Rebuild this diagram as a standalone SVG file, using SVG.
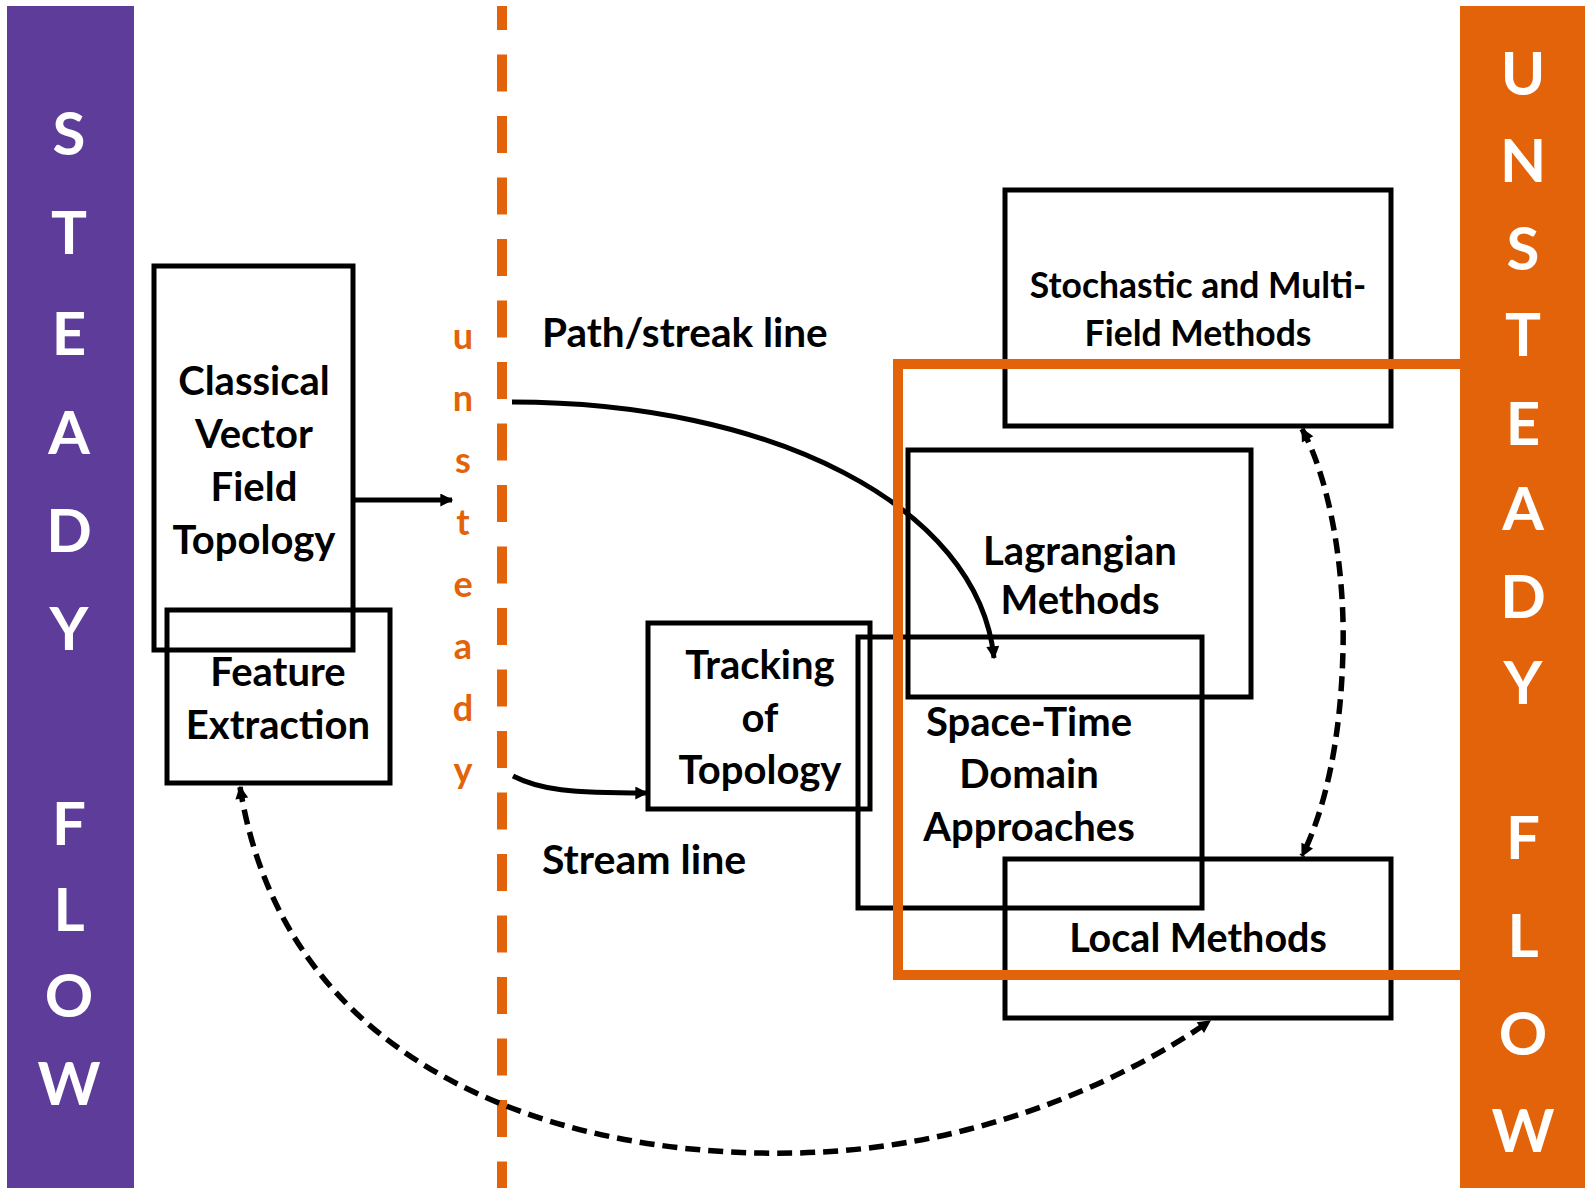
<svg xmlns="http://www.w3.org/2000/svg" width="1585" height="1188" viewBox="0 0 1585 1188">
<defs>
<style>
.box{fill:none;stroke:#000;stroke-width:5}
.lbl{font-family:Lato,"Open Sans","Liberation Sans",sans-serif;font-weight:bold;font-size:40px;fill:#000;text-anchor:middle}
.side{font-family:Lato,"Open Sans","Liberation Sans",sans-serif;font-weight:bold;font-size:60px;fill:#fff;text-anchor:middle}
.uns{font-family:Lato,"Open Sans","Liberation Sans",sans-serif;font-weight:bold;font-size:36px;fill:#E2630A;text-anchor:middle}
.conn{fill:none;stroke:#000;stroke-width:5}
.dash{fill:none;stroke:#000;stroke-width:5.5;stroke-dasharray:15 8}
</style>
<marker id="arr" viewBox="0 0 10 10" refX="9" refY="5" markerWidth="15" markerHeight="13" markerUnits="userSpaceOnUse" orient="auto"><path d="M0,0 L10,5 L0,10 z" fill="#000"/></marker>
<marker id="arrS" viewBox="0 0 10 10" refX="9" refY="5" markerWidth="15" markerHeight="13" markerUnits="userSpaceOnUse" orient="auto-start-reverse"><path d="M0,0 L10,5 L0,10 z" fill="#000"/></marker>
</defs>
<rect width="1585" height="1188" fill="#fff"/>
<g id="steady-bar">
<rect x="7" y="6" width="127" height="1182" fill="#5E3C99"/>
<text class="side" x="69" y="155">S</text>
<text class="side" x="69" y="254">T</text>
<text class="side" x="69" y="355">E</text>
<text class="side" x="69" y="454">A</text>
<text class="side" x="69" y="552">D</text>
<text class="side" x="69" y="650">Y</text>
<text class="side" x="69" y="845">F</text>
<text class="side" x="69" y="931">L</text>
<text class="side" x="69" y="1017">O</text>
<text class="side" x="69" y="1105">W</text>
</g>
<g id="unsteady-divider">
<line x1="502" y1="6" x2="502" y2="1188" stroke="#E2630A" stroke-width="10" stroke-dasharray="37 24.5" stroke-dashoffset="13"/>
<text class="uns" x="463" y="349">u</text>
<text class="uns" x="463" y="411">n</text>
<text class="uns" x="463" y="473">s</text>
<text class="uns" x="463" y="535">t</text>
<text class="uns" x="463" y="597">e</text>
<text class="uns" x="463" y="659">a</text>
<text class="uns" x="463" y="721">d</text>
<text class="uns" x="463" y="783">y</text>
</g>
<g id="classical">
<rect class="box" x="154" y="266" width="199" height="384"/>
<text class="lbl" x="254" y="395">Classical</text>
<text class="lbl" x="254" y="448">Vector</text>
<text class="lbl" x="254" y="501">Field</text>
<text class="lbl" x="254" y="554">Topology</text>
</g>
<g id="feature">
<rect class="box" x="167" y="610" width="223" height="173"/>
<text class="lbl" x="278" y="686">Feature</text>
<text class="lbl" x="278" y="739">Extraction</text>
</g>
<g id="tracking">
<rect class="box" x="648" y="623" width="222" height="186"/>
<text class="lbl" x="760" y="679">Tracking</text>
<text class="lbl" x="760" y="732">of</text>
<text class="lbl" x="760" y="784">Topology</text>
</g>
<g id="spacetime">
<rect class="box" x="858" y="637" width="344" height="271"/>
<text class="lbl" x="1029" y="736">Space-Time</text>
<text class="lbl" x="1029" y="788">Domain</text>
<text class="lbl" x="1029" y="841">Approaches</text>
</g>
<g id="lagrangian">
<rect class="box" x="908" y="450" width="343" height="247"/>
<text class="lbl" x="1080" y="565">Lagrangian</text>
<text class="lbl" x="1080" y="614">Methods</text>
</g>
<g id="stochastic">
<rect class="box" x="1005" y="190" width="386" height="236"/>
<text class="lbl" x="1198" y="298" style="font-size:35.5px">Stochastic and Multi-</text>
<text class="lbl" x="1198" y="346" style="font-size:35.5px">Field Methods</text>
</g>
<g id="local">
<rect class="box" x="1005" y="859" width="386" height="159"/>
<text class="lbl" x="1198" y="952" style="font-size:39.5px">Local Methods</text>
</g>
<g id="path-label"><text class="lbl" x="542" y="347" style="text-anchor:start;font-size:40.5px">Path/streak line</text></g>
<g id="stream-label"><text class="lbl" x="542" y="874" style="text-anchor:start;font-size:41px">Stream line</text></g>
<g id="connectors">
<line class="conn" x1="353" y1="500" x2="452" y2="500" marker-end="url(#arr)"/>
<path class="conn" d="M512,402 C770,402 978,505 994,658" marker-end="url(#arr)"/>
<path class="conn" d="M513,776 C540,790 570,793 647,793" marker-end="url(#arr)"/>
<path class="dash" d="M1302,429 C1330,480 1345,570 1343,650 C1341,740 1325,810 1302,856" marker-start="url(#arrS)" marker-end="url(#arrS)"/>
<path class="dash" d="M240,787 C285,1070 560,1158 795,1153 C965,1150 1112,1088 1210,1021" marker-start="url(#arrS)" marker-end="url(#arrS)"/>
</g>
<g id="unsteady-region">
<path d="M1460,364 H898 V975 H1460" fill="none" stroke="#E2630A" stroke-width="10"/>
</g>
<g id="unsteady-bar">
<rect x="1460" y="6" width="125" height="1182" fill="#E2630A"/>
<text class="side" x="1523" y="95">U</text>
<text class="side" x="1523" y="182">N</text>
<text class="side" x="1523" y="270">S</text>
<text class="side" x="1523" y="356">T</text>
<text class="side" x="1523" y="445">E</text>
<text class="side" x="1523" y="530">A</text>
<text class="side" x="1523" y="618">D</text>
<text class="side" x="1523" y="704">Y</text>
<text class="side" x="1523" y="859">F</text>
<text class="side" x="1523" y="957">L</text>
<text class="side" x="1523" y="1055">O</text>
<text class="side" x="1523" y="1152">W</text>
</g>
</svg>
